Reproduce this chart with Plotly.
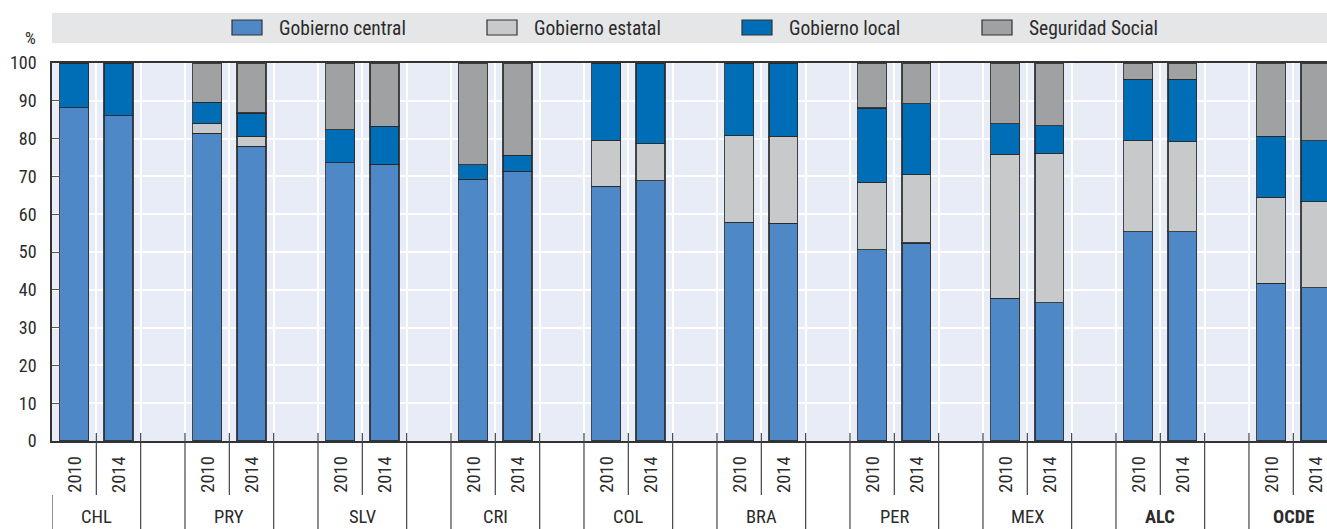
import plotly.graph_objects as go

# ---------------- data ----------------
groups = ["CHL", "PRY", "SLV", "CRI", "COL", "BRA", "PER", "MEX", "ALC", "OCDE"]
bold_groups = ["ALC", "OCDE"]
years = ["2010", "2014"]

series_names = ["Gobierno central", "Gobierno estatal", "Gobierno local", "Seguridad Social"]
series_colors = ["#4f88c6", "#c8c9cb", "#006eb6", "#a0a1a3"]

# order: CHL2010, CHL2014, PRY2010, PRY2014, ...
gob_central = [88.2, 86.1, 81.4, 78.0, 73.6, 73.2, 69.2, 71.3, 67.4, 68.9,
               57.9, 57.6, 50.6, 52.4, 37.7, 36.6, 55.4, 55.4, 41.7, 40.6]
gob_estatal = [0, 0, 2.7, 2.6, 0, 0, 0, 0, 12.1, 9.8,
               22.9, 23.0, 17.8, 18.1, 38.1, 39.5, 24.0, 23.9, 22.8, 22.7]
gob_local = [11.8, 13.9, 5.5, 6.2, 8.8, 10.1, 3.9, 4.3, 20.5, 21.3,
             19.2, 19.4, 19.7, 18.7, 8.1, 7.3, 16.3, 16.4, 16.1, 16.1]
seg_social = [0, 0, 10.4, 13.2, 17.6, 16.7, 26.9, 24.4, 0, 0,
              0, 0, 11.9, 10.8, 16.1, 16.6, 4.3, 4.3, 19.4, 20.6]

y_ticks = [0, 10, 20, 30, 40, 50, 60, 70, 80, 90, 100]

# ---------------- layout helpers ----------------
FONT = "Liberation Sans Narrow, Arial Narrow, Roboto Condensed, Arial, sans-serif"
TXT = "#2b2b2b"
W, H = 1327, 529
ML, MT, MB = 52, 63, 88
PH = H - MT - MB  # plot height in px
SLOTS_PER_GROUP = 3
x_range = [-0.5, 28.26]

def py(p):
    """pixel y -> paper y"""
    return (H - MB - p) / PH

def px(p):
    """pixel x -> paper x"""
    return (p - ML) / (W - ML)

xpos, labels = [], []
for g, grp in enumerate(groups):
    for j, yr in enumerate(years):
        xpos.append(g * SLOTS_PER_GROUP + j)
        labels.append(f"{grp} {yr}")

fig = go.Figure()
for name, color, vals in zip(series_names, series_colors,
                             [gob_central, gob_estatal, gob_local, seg_social]):
    fig.add_trace(go.Bar(
        x=xpos, y=vals, name=name, width=0.65,
        marker=dict(color=color, line=dict(color="rgba(40,40,40,0.85)", width=1.2)),
        customdata=labels, hovertemplate="%{customdata}: %{y}<extra>" + name + "</extra>",
        showlegend=False,
    ))

shapes = []
annotations = []

# legend band
shapes.append(dict(type="rect", xref="paper", yref="paper", x0=0, x1=1,
                   y0=py(43), y1=py(13), fillcolor="#e5e6e7", line=dict(width=0), layer="below"))
legend_px = [232, 487, 742, 982]
for name, color, lx in zip(series_names, series_colors, legend_px):
    shapes.append(dict(type="rect", xref="paper", yref="paper",
                       x0=px(lx), x1=px(lx + 30), y0=py(35), y1=py(20),
                       fillcolor=color, line=dict(color="#333", width=1.2)))
    annotations.append(dict(text=name, xref="paper", yref="paper", x=px(lx + 45), y=py(28),
                            xanchor="left", yanchor="middle", showarrow=False,
                            font=dict(family=FONT, size=19.5, color=TXT)))

# % label
annotations.append(dict(text="%", xref="paper", yref="paper", x=px(30), y=py(38),
                        xanchor="center", yanchor="middle", showarrow=False,
                        font=dict(family=FONT, size=17, color=TXT)))

# category axis below the plot
for g, grp in enumerate(groups):
    base = g * SLOTS_PER_GROUP
    left = base - 0.5
    right = base + 1.5
    if g == 0:
        shapes.append(dict(type="line", xref="x", yref="paper", x0=left, x1=left,
                           y0=py(495), y1=py(H + 2), line=dict(color="#444", width=1.2)))
    else:
        shapes.append(dict(type="line", xref="x", yref="paper", x0=left, x1=left,
                           y0=py(433), y1=py(H + 2), line=dict(color="#444", width=1.2)))
    shapes.append(dict(type="line", xref="x", yref="paper", x0=right, x1=right,
                       y0=py(433), y1=py(H + 2), line=dict(color="#444", width=1.2)))
    shapes.append(dict(type="line", xref="x", yref="paper", x0=base + 0.5, x1=base + 0.5,
                       y0=py(433), y1=py(495), line=dict(color="#444", width=1.2)))
    for j, yr in enumerate(years):
        annotations.append(dict(text=yr, xref="x", yref="paper", x=base + j, y=py(474.5),
                                textangle=-90, xanchor="center", yanchor="middle", showarrow=False,
                                font=dict(family=FONT, size=18.5, color=TXT)))
    label = f"<b>{grp}</b>" if grp in bold_groups else grp
    annotations.append(dict(text=label, xref="x", yref="paper", x=base + 0.5, y=py(504),
                            xanchor="center", yanchor="top", showarrow=False,
                            font=dict(family=FONT, size=18.5, color=TXT)))

fig.update_layout(
    width=W, height=H,
    margin=dict(l=ML, r=0, t=MT, b=MB),
    barmode="stack",
    plot_bgcolor="#e8ecf6",
    paper_bgcolor="white",
    showlegend=False,
    shapes=shapes,
    annotations=annotations,
    font=dict(family=FONT, color=TXT),
    xaxis=dict(range=x_range, tickvals=[k - 0.5 for k in range(31)], showticklabels=False,
               showgrid=True, gridcolor="white", gridwidth=1.5, ticks="",
               showline=True, mirror=True, linecolor="#333", linewidth=1.5, zeroline=False),
    yaxis=dict(range=[0, 100], tickvals=y_ticks, showgrid=True, gridcolor="white", gridwidth=1.5,
               ticks="inside", ticklen=8, tickcolor="#555", showline=True, linecolor="#333",
               linewidth=1.5, zeroline=False, tickfont=dict(family=FONT, size=18, color=TXT),
               ticklabelstandoff=10),
)

fig.write_html("out.html", config={"displayModeBar": False},
               post_script="document.body.style.margin='0';document.body.style.overflow='hidden';")
